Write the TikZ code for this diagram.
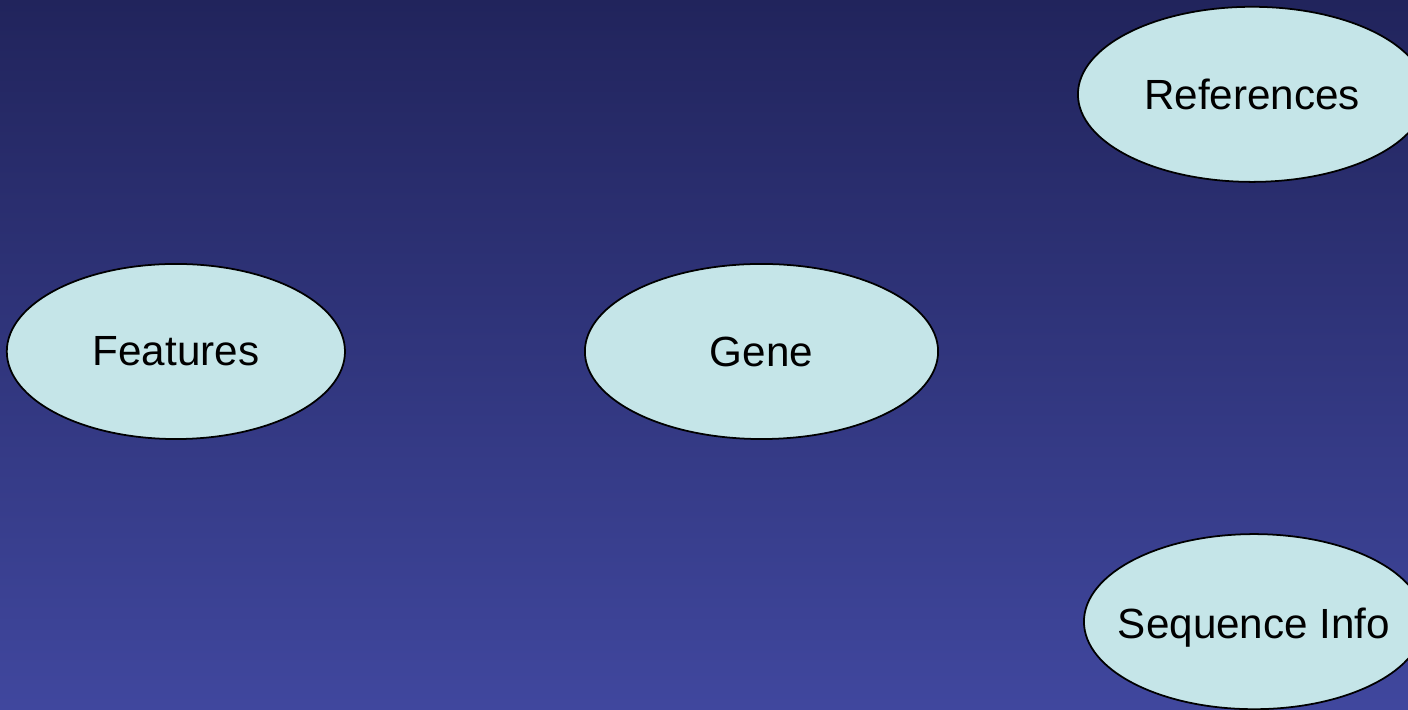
\documentclass[tikz,border=0pt]{standalone}
\usepackage{fontspec}
\setmainfont{Liberation Sans}
\usetikzlibrary{shapes.geometric, positioning}
\definecolor{bgtop}{RGB}{33,36,92}
\definecolor{bgbottom}{RGB}{64,71,158}
\definecolor{bubble}{RGB}{197,229,232}
\tikzstyle{topic} = [ellipse, draw=black, fill=bubble, line width=0.5pt, inner sep=0pt, minimum width=3.45cm, minimum height=1.75cm]

\begin{document}
\begin{tikzpicture}[x=0.01cm, y=-0.01cm, every label/.style={font=\fontsize{12}{14}\selectfont, inner sep=0pt}]

% backdrop
\useasboundingbox (0,0) rectangle (1408,710);
\clip (0,0) rectangle (1408,710);
\fill[top color=bgtop, bottom color=bgbottom] (0,0) rectangle (1408,710);

% Gene in the middle
\node (gene) [topic, minimum width=3.53cm, label=center:Gene] at (761.5,351.5) {};

% Features
\node (features) [topic, minimum width=3.38cm, left=2.38cm of gene, label=center:Features] {};

% References
\node (refs) [topic, minimum width=3.48cm, right=1.38cm of gene, yshift=2.57cm, label=center:References] {};

% Sequence Info
\node (seqinfo) [topic, minimum width=3.40cm, right=1.44cm of gene, yshift=-2.70cm, label={[yshift=-0.06cm]center:Sequence Info}] {};

\end{tikzpicture}
\end{document}
